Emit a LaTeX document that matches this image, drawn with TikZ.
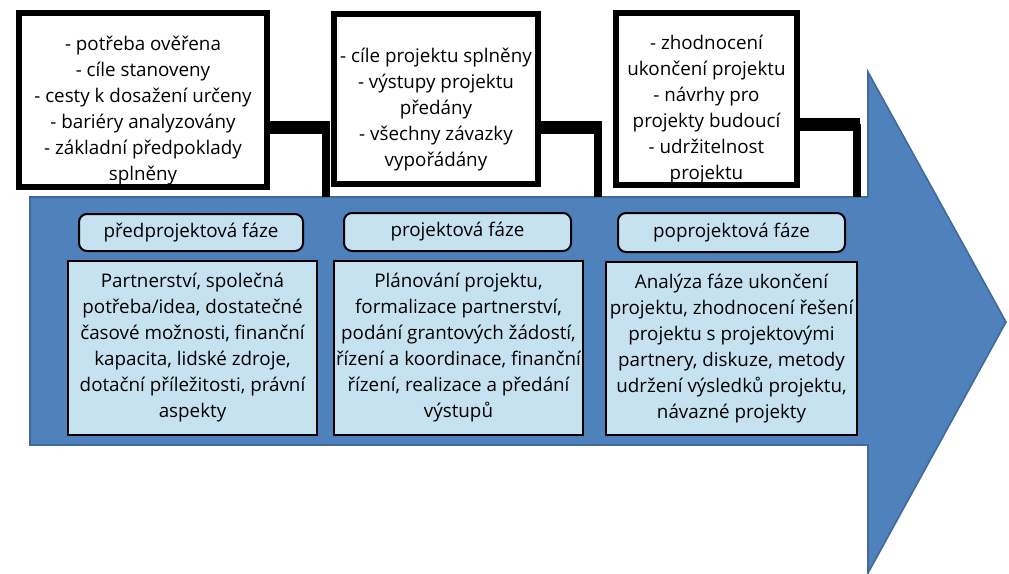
\documentclass[tikz,border=0pt]{standalone}
\usepackage{fontspec}
\setmainfont{Open Sans}
\definecolor{sipka}{HTML}{4F81BD}
\definecolor{sipkaokraj}{HTML}{41699A}
\definecolor{svetla}{RGB}{198,225,240}
\newcommand{\posun}{\rule{0pt}{18pt}}
\tikzset{
  horni/.style={draw,line width=3pt,fill=white,align=center,inner sep=0pt},
  faze/.style={draw,line width=1pt,fill=svetla,rounded corners=4pt,align=center,inner sep=0pt},
  obsah/.style={draw,line width=1pt,fill=svetla,align=center,inner sep=0pt},
  pricka/.style={line width=6.5pt},
  noha/.style={line width=4pt}
}
\begin{document}
\begin{tikzpicture}[x=0.5pt,y=-0.5pt,font=\fontsize{9.4}{13}\selectfont]
    \useasboundingbox(0,0)rectangle(1009,574);
    \fill[white](0,0)rectangle(1009,574);
    \filldraw[fill=sipka,draw=sipkaokraj,line width=0.8pt](30,197)--(868,197)--(868,72)--(1006,322)--(868,573)--(868,445)--(30,445)--cycle;%šipka
    % spojky
    \coordinate(j1)at(330,127);\coordinate(f1)at(326,197);
    \coordinate(j2)at(602,127);\coordinate(f2)at(598,197);
    \coordinate(j3)at(860,124);\coordinate(f3)at(857,197);
    % horní boxy
    \node[horni,minimum width=124pt,minimum height=87pt](h1)at(143,100){\posun- potřeba ověřena\\- cíle stanoveny\\- cesty k dosažení určeny\\- bariéry analyzovány\\- základní předpoklady\\splněny};
    \node[horni,minimum width=102pt,minimum height=85pt](h2)at(436,99){\posun- cíle projektu splněny\\- výstupy projektu\\předány\\- všechny závazky\\vypořádány};
    \node[horni,minimum width=90.5pt,minimum height=86pt](h3)at(706.5,99){\posun- zhodnocení\\ukončení projektu\\- návrhy pro\\projekty budoucí\\- udržitelnost\\projektu};
    \draw[pricka](h1.east|-j1)--(j1);\draw[noha](j1-|f1)--(f1);
    \draw[pricka](h2.east|-j2)--(j2);\draw[noha](j2-|f2)--(f2);
    \draw[pricka](h3.east|-j3)--(j3);\draw[noha](j3-|f3)--(f3);
    % fáze
    \node[faze,minimum width=112pt,minimum height=18.5pt](p1)at(191,232.5){předprojektová fáze};
    \node[faze,minimum width=113.5pt,minimum height=19pt](p2)at(457.5,232){projektová fáze};
    \node[faze,minimum width=113.5pt,minimum height=19.5pt](p3)at(731.5,232.5){poprojektová fáze};
    % obsah fází
    \node[obsah,minimum width=124.5pt,minimum height=87pt](o1)at(192.5,348){Partnerství, společná\\potřeba/idea, dostatečné\\časové možnosti, finanční\\kapacita, lidské zdroje,\\dotační příležitosti, právní\\aspekty};
    \node[obsah,minimum width=124.5pt,minimum height=87pt](o2)at(458.5,348){Plánování projektu,\\formalizace partnerství,\\podání grantových žádostí,\\řízení a koordinace, finanční\\řízení, realizace a předání\\výstupů};
    \node[obsah,minimum width=125.5pt,minimum height=86.5pt](o3)at(731.5,348.5){Analýza fáze ukončení\\projektu, zhodnocení řešení\\projektu s projektovými\\partnery, diskuze, metody\\udržení výsledků projektu,\\návazné projekty};
\end{tikzpicture}
\end{document}
